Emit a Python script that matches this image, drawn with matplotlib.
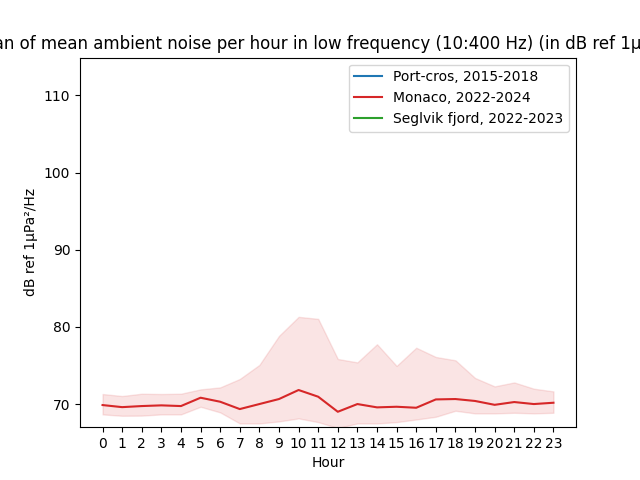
import numpy as np
import matplotlib
matplotlib.use("Agg")
import matplotlib.pyplot as plt

hours = list(range(24))

# Monaco, 2022-2024 : median and band
monaco_med = [69.87, 69.6, 69.74, 69.83, 69.74, 70.82, 70.3, 69.35, 70.0, 70.65, 71.82, 70.95,
              69.0, 70.0, 69.57, 69.65, 69.52, 70.6, 70.65, 70.4, 69.9, 70.26, 70.0, 70.17]
monaco_high = [71.3, 71.04, 71.34, 71.3, 71.34, 71.9, 72.16, 73.25, 75.07, 78.83, 81.3, 81.04,
               75.84, 75.4, 77.75, 74.94, 77.3, 76.1, 75.67, 73.38, 72.29, 72.8, 71.99, 71.64]
monaco_low = [68.66, 68.48, 68.5, 68.66, 68.66, 69.65, 68.92, 67.49, 67.49, 67.75, 68.14, 67.66,
              66.9, 67.49, 67.49, 67.66, 68.0, 68.35, 69.13, 68.79, 68.79, 68.87, 68.79, 68.87]

fig, ax = plt.subplots(figsize=(6.4, 4.8), dpi=100)

ax.plot([], [], color="tab:blue", label="Port-cros, 2015-2018")
ax.plot(hours, monaco_med, color="tab:red", label="Monaco, 2022-2024")
ax.fill_between(hours, monaco_low, monaco_high, color="tab:red", alpha=0.12)
ax.plot([], [], color="tab:green", label="Seglvik fjord, 2022-2023")

ax.set_title("Median of mean ambient noise per hour in low frequency (10:400 Hz) (in dB ref 1µPa²/Hz)")
ax.set_xlabel("Hour")
ax.set_ylabel("dB ref 1µPa²/Hz")
ax.set_xticks(hours)
ax.set_xlim(-1.15, 24.15)
ax.set_ylim(67.0, 114.9)
ax.legend(loc="upper right")

plt.savefig("out.png")
